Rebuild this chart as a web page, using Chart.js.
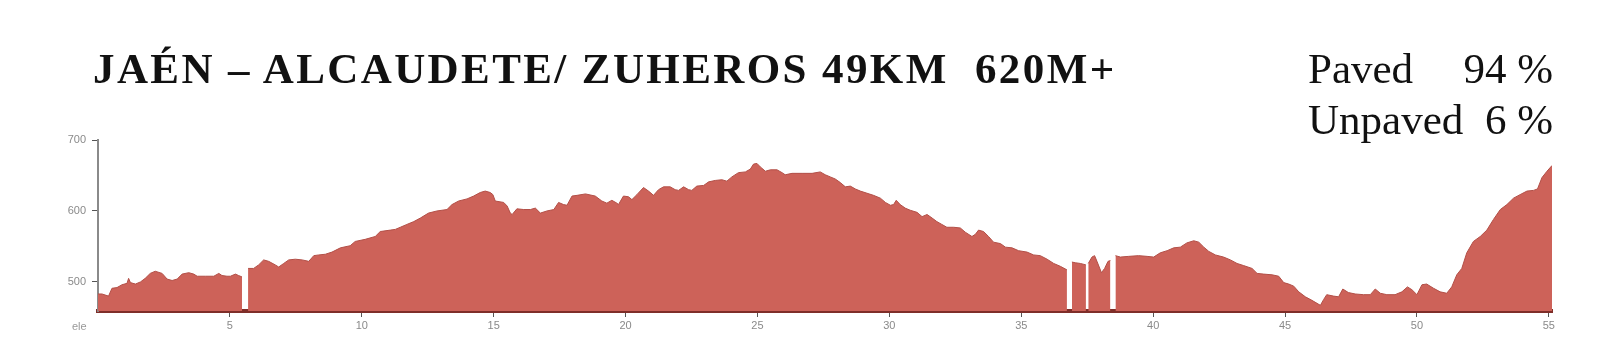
<!DOCTYPE html>
<html>
<head>
<meta charset="utf-8">
<script src="https://cdn.jsdelivr.net/npm/chart.js@4"></script>
<style>
    body { margin: 0; background: #fff; }
    #wrap { position: relative; width: 1622px; height: 351px; }
    #title { position: absolute; left: 93px; top: 47px; font: bold 43px/43px "Liberation Serif", serif; letter-spacing: 2.4px; color: #111; white-space: pre; }
    .surf { position: absolute; left: 1308px; width: 245px; font: 43px/43px "Liberation Serif", serif; color: #111; }
    .surf span { position: absolute; right: 0; }
    #ele { position: absolute; left: 72px; top: 319px; font: 11px/14px "Liberation Sans", sans-serif; color: #999; }
</style>
</head>
<body>
<div id="wrap">
    <canvas id="profile"></canvas>
    <div id="title">JAÉN – ALCAUDETE/ ZUHEROS 49KM  620M+</div>
    <div class="surf" style="top:47px">Paved<span>94 %</span></div>
    <div class="surf" style="top:98px">Unpaved<span>6 %</span></div>
    <div id="ele">ele</div>
</div>
<script>
// distance along the route (km) and elevation (m); null = gap in the track
const distKm = [
    0, 0.15, 0.40, 0.53, 0.72, 0.91, 1.10, 1.16, 1.23, 1.42, 1.61, 1.79, 1.98, 2.17, 2.43, 2.62, 2.81, 3.00,
    3.19, 3.44, 3.63, 3.76, 4.07, 4.39, 4.58, 4.70, 4.89, 5.02, 5.21, 5.33, 5.46, 5.58, 5.69, 5.90, 6.09, 6.28,
    6.47, 6.72, 6.85, 7.04, 7.23, 7.48, 7.74, 7.99, 8.18, 8.37, 8.62, 8.87, 9.19,
    9.56, 9.75, 10.13, 10.51, 10.70, 11.08, 11.27, 11.46, 11.71, 11.97, 12.22, 12.53, 12.85, 13.23, 13.42, 13.67,
    13.99, 14.24, 14.49, 14.68, 14.87, 14.97, 15.06, 15.38, 15.51, 15.63, 15.70, 15.88, 16.14, 16.39, 16.58,
    16.77, 17.02, 17.28, 17.46, 17.65, 17.78, 17.97, 18.16, 18.48,
    18.85, 19.10, 19.29, 19.48, 19.67, 19.73, 19.92, 20.11, 20.24, 20.43, 20.68, 20.87, 21.06, 21.25, 21.44,
    21.69, 21.88, 22.01, 22.20, 22.39, 22.51, 22.70, 22.96, 23.15, 23.40, 23.65, 23.84, 24.03, 24.28, 24.54,
    24.73, 24.85, 24.98, 25.11, 25.30, 25.49, 25.74, 25.93, 26.05, 26.31, 26.69, 27.07, 27.38, 27.57, 27.76,
    27.95, 28.14, 28.33, 28.52, 28.71, 28.90, 29.15, 29.40, 29.66, 29.85, 30.04, 30.16, 30.26, 30.41, 30.60,
    30.79, 31.05, 31.24, 31.43, 31.62, 31.80, 31.99, 32.18, 32.44, 32.69, 32.88, 33.13, 33.26, 33.38, 33.57,
    33.76, 33.95, 34.21, 34.40, 34.65, 34.90, 35.22, 35.47, 35.72, 35.98, 36.23, 36.48, 36.73, 36.81, 36.92,
    37.05, 37.24, 37.45, 37.49, 37.54, 37.68, 37.78, 37.87, 38.04, 38.16, 38.29, 38.38, 38.47, 38.57, 38.76,
    39.07, 39.45, 39.77, 40.02, 40.27, 40.53, 40.78, 41.03, 41.28, 41.54, 41.73, 41.92, 42.11, 42.36, 42.67,
    42.93, 43.18, 43.43, 43.75, 43.94, 44.19, 44.51, 44.76, 44.95, 45.14, 45.33, 45.52, 45.77, 46.02, 46.34,
    46.46, 46.58, 46.84, 47.03, 47.19, 47.40, 47.66, 47.97, 48.23, 48.42, 48.61, 48.86, 49.17, 49.43, 49.64,
    49.81, 50.00, 50.19, 50.37, 50.63, 50.88, 51.13, 51.32, 51.51, 51.70, 51.89, 52.14, 52.40, 52.65, 52.90,
    53.16, 53.41, 53.66, 53.91, 54.17, 54.42, 54.57, 54.74, 54.93, 55.12
];
const elevM = [
    483, 483, 480, 491, 492, 496, 498, 505, 499, 497, 500, 505, 512, 515, 512, 504, 502, 504,
    511, 513, 511, 508, 508, 508, 512, 509, 508, 508, 511, 509, 507, null, 519, 519, 524, 531,
    529, 524, 521, 526, 531, 532, 531, 529, 537, 538, 539, 542, 548,
    551, 557, 560, 564, 571, 573, 574, 577, 581, 585, 590, 597, 600, 602, 609, 614,
    617, 621, 626, 628, 626, 623, 614, 612, 607, 597, 595, 603, 602, 602, 604,
    597, 600, 602, 612, 609, 608, 621, 622, 624,
    621, 614, 611, 615, 611, 609, 621, 620, 616, 623, 633, 628, 622, 630, 634,
    634, 630, 629, 634, 630, 629, 635, 636, 641, 643, 644, 642, 648, 654, 655,
    659, 666, 667, 662, 656, 658, 658, 654, 651, 653, 653, 653, 655, 651, 648,
    645, 640, 634, 635, 631, 628, 625, 622, 618, 612, 608, 609, 615, 609, 604,
    601, 598, 592, 595, 590, 585, 581, 577, 577, 576, 570, 564, 567, 573, 571,
    564, 556, 554, 549, 548, 544, 542, 538, 537, 532, 526, 522, 517, null, 528,
    527, 526, 524, null, 526, 535, 537, 529, 513, 519, 529, 530, null, 537, 535,
    536, 537, 536, 535, 541, 544, 548, 549, 555, 558, 556, 549, 543, 538, 535,
    531, 526, 523, 519, 512, 511, 510, 508, 499, 497, 494, 486, 479, 474, 467,
    475, 482, 480, 479, 490, 485, 483, 482, 482, 490, 484, 482, 482, 486, 493,
    489, 482, 496, 497, 491, 486, 484, 493, 510, 519, 541, 557, 564, 573, 588,
    602, 609, 618, 623, 628, 629, 631, 647, 656, 664
];
const xTickKm = [5, 10, 15, 20, 25, 30, 35, 40, 45, 50, 55];
const yTickM = [500, 600, 700];
const routeEndKm = 55.12;
const elevFloor = 459;
const elevTop = 700;

let points = distKm.map(function(d, i) { return {x: d, y: elevM[i]}; });

let config = {
    type: 'line',
    data: {
        datasets: [{
            data: points,
            backgroundColor: '#cd6259',
            borderColor: '#b24f47',
            borderWidth: 1,
            pointRadius: 0,
            tension: 0,
            fill: 'start',
            spanGaps: false
        }]
    },
    options: {
        responsive: true,
        maintainAspectRatio: false,
        animation: false,
        layout: { padding: { top: 140, right: 70, left: 0, bottom: 0 } },
        plugins: { legend: { display: false }, tooltip: { enabled: false } },
        scales: {
            x: {
                type: 'linear',
                min: 0,
                max: routeEndKm,
                z: 1,
                afterFit: function(scale) { scale.height = 40; },
                afterBuildTicks: function(scale) { scale.ticks = xTickKm.map(function(v) { return {value: v}; }); },
                border: { display: true, color: '#7f2e29', width: 4 },
                grid: { drawOnChartArea: false, drawTicks: true, tickLength: 6, color: '#555' },
                ticks: { color: '#8a8a8a', padding: 2, font: { family: 'Liberation Sans', size: 11 }, maxRotation: 0 }
            },
            y: {
                min: elevFloor,
                max: elevTop,
                afterFit: function(scale) { scale.width = 98; },
                afterBuildTicks: function(scale) { scale.ticks = yTickM.map(function(v) { return {value: v}; }); },
                border: { display: true, color: '#8a8a8a', width: 2 },
                grid: { drawOnChartArea: false, drawTicks: true, tickLength: 6, color: '#555' },
                ticks: { color: '#8a8a8a', padding: 6, font: { family: 'Liberation Sans', size: 11 } }
            }
        }
    }
};

new Chart(document.getElementById('profile'), config);
</script>
</body>
</html>
